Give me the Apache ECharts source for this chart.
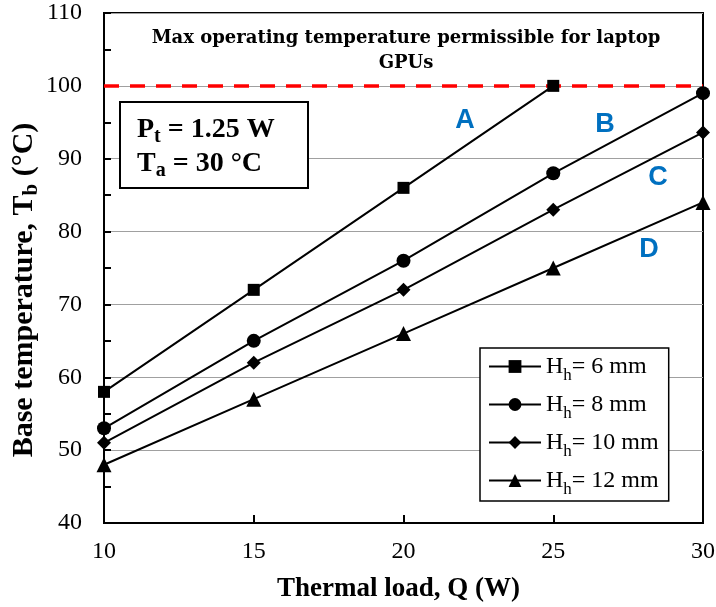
<!DOCTYPE html>
<html>
<head>
<meta charset="utf-8">
<script src="https://cdn.jsdelivr.net/npm/echarts@6/dist/echarts.min.js"></script>
<style>
html,body{margin:0;padding:0;background:#fff;}
#chart{width:716px;height:607px;}
</style>
</head>
<body>
<div id="chart"></div>
<script>
// ---- data ----
const loads = [10, 15, 20, 25, 30];
const seriesNames = ['H_h= 6 mm', 'H_h= 8 mm', 'H_h= 10 mm', 'H_h= 12 mm'];
const tempA = [58, 72, 86, 100];
const tempB = [53, 65, 76, 88, 99];
const tempC = [51, 62, 72, 83, 93.6];
const tempD = [48, 57, 66, 75, 84];
const maxTemp = 100;
const symbols = ['rect', 'circle', 'diamond', 'triangle'];
const symbolSizes = [12, 14, 14, 15];
const curveLabels = ['A', 'B', 'C', 'D'];

const serif = '"Liberation Serif", "Times New Roman", serif';
const chart = echarts.init(document.getElementById('chart'));

function pairs(vals) { return vals.map((v, i) => [loads[i], v]); }
const allTemps = [tempA, tempB, tempC, tempD];

const series = allTemps.map((vals, i) => ({
  name: seriesNames[i],
  type: 'line',
  data: pairs(vals),
  symbol: symbols[i],
  symbolSize: symbolSizes[i],
  lineStyle: { color: '#000', width: 2 },
  itemStyle: { color: '#000' },
  z: 5,
  silent: true,
  animation: false
}));
series[0].markLine = {
  silent: true,
  symbol: ['none', 'none'],
  label: { show: false },
  lineStyle: { color: '#ff0000', width: 3.5, type: [15, 11] },
  data: [{ yAxis: maxTemp }],
  animation: false
};

const option = {
  animation: false,
  grid: { left: 104, right: 13, top: 13, bottom: 84, containLabel: false, outerBoundsMode: 'none',
    show: true, borderColor: '#000', borderWidth: 2, backgroundColor: 'transparent' },
  xAxis: {
    type: 'value', min: 10, max: 30, interval: 5,
    name: 'Thermal load, Q (W)', nameLocation: 'middle', nameGap: 53,
    nameTextStyle: { fontFamily: serif, fontWeight: 'bold', fontSize: 27, color: '#000', padding: [0, 10, 0, 0] },
    axisLine: { show: true, lineStyle: { color: '#000', width: 2 } },
    axisTick: { show: true, inside: true, length: 8, lineStyle: { color: '#000', width: 2 } },
    axisLabel: { fontFamily: serif, fontSize: 24, color: '#000', margin: 17 },
    splitLine: { show: false }
  },
  yAxis: {
    type: 'value', min: 40, max: 110, interval: 10,
    axisLine: { show: true, lineStyle: { color: '#000', width: 2 } },
    axisTick: { show: true, inside: true, length: 7, lineStyle: { color: '#000', width: 2 } },
    minorTick: { show: true, splitNumber: 2, length: 7, lineStyle: { color: '#000', width: 2 } },
    axisLabel: { fontFamily: serif, fontSize: 24, color: '#000', margin: 22 },
    splitLine: { show: true, lineStyle: { color: '#a0a0a0', width: 1.2 } }
  },
  legend: {
    orient: 'vertical', left: 480, top: 348,
    backgroundColor: '#fff', borderColor: '#000', borderWidth: 1.5,
    padding: [6, 10, 3, 8], itemGap: 8, itemWidth: 52, itemHeight: 16,
    data: seriesNames,
    formatter: function (name) {
      const rest = name.slice(3);
      return '{t|H}{s|h}{t|' + rest + '}';
    },
    textStyle: { fontFamily: serif, fontSize: 24, color: '#000', lineHeight: 25,
      rich: {
        t: { fontFamily: serif, fontSize: 24, color: '#000', lineHeight: 25 },
        s: { fontFamily: serif, fontSize: 17, color: '#000', lineHeight: 25, verticalAlign: 'bottom', padding: [0, 0, -5, 0] }
      } }
  },
  series: series,
  graphic: [
    { type: 'text', x: 24, y: 290, rotation: Math.PI / 2, z: 11,
      style: { text: '{m|Base temperature, T}{s|b}{m| (°C)}', align: 'center', verticalAlign: 'middle',
        rich: { m: { font: 'bold 30px ' + serif, fill: '#000' }, s: { font: 'bold 21px ' + serif, fill: '#000', verticalAlign: 'bottom', padding: [0, 0, -3, 0] } } } },
    { type: 'text', x: 406, y: 38, style: { text: 'Max operating temperature permissible for laptop', font: 'bold 18px "DejaVu Serif", serif', fill: '#000', align: 'center', verticalAlign: 'middle' }, z: 10 },
    { type: 'text', x: 406, y: 63, style: { text: 'GPUs', font: 'bold 18px "DejaVu Serif", serif', fill: '#000', align: 'center', verticalAlign: 'middle' }, z: 10 },
    { type: 'rect', shape: { x: 120, y: 102, width: 188, height: 86 }, style: { fill: '#fff', stroke: '#000', lineWidth: 2 }, z: 10 },
    { type: 'text', x: 137, y: 130, z: 11, style: { text: '{m|P}{s|t}{m| = 1.25 W}', verticalAlign: 'middle',
      rich: { m: { font: 'bold 28px ' + serif, fill: '#000' }, s: { font: 'bold 20px ' + serif, fill: '#000', verticalAlign: 'bottom', padding: [0, 0, -3, 0] } } } },
    { type: 'text', x: 137, y: 164, z: 11, style: { text: '{m|T}{s|a}{m| = 30 °C}', verticalAlign: 'middle',
      rich: { m: { font: 'bold 28px ' + serif, fill: '#000' }, s: { font: 'bold 20px ' + serif, fill: '#000', verticalAlign: 'bottom', padding: [0, 0, -3, 0] } } } },
    { type: 'text', x: 465, y: 121, z: 11, style: { text: curveLabels[0], font: 'bold 27px "Liberation Sans", Arial, sans-serif', fill: '#0070C0', align: 'center', verticalAlign: 'middle' } },
    { type: 'text', x: 605, y: 125, z: 11, style: { text: curveLabels[1], font: 'bold 27px "Liberation Sans", Arial, sans-serif', fill: '#0070C0', align: 'center', verticalAlign: 'middle' } },
    { type: 'text', x: 658, y: 178, z: 11, style: { text: curveLabels[2], font: 'bold 27px "Liberation Sans", Arial, sans-serif', fill: '#0070C0', align: 'center', verticalAlign: 'middle' } },
    { type: 'text', x: 649, y: 250, z: 11, style: { text: curveLabels[3], font: 'bold 27px "Liberation Sans", Arial, sans-serif', fill: '#0070C0', align: 'center', verticalAlign: 'middle' } }
  ]
};
chart.setOption(option);
</script>
</body>
</html>
